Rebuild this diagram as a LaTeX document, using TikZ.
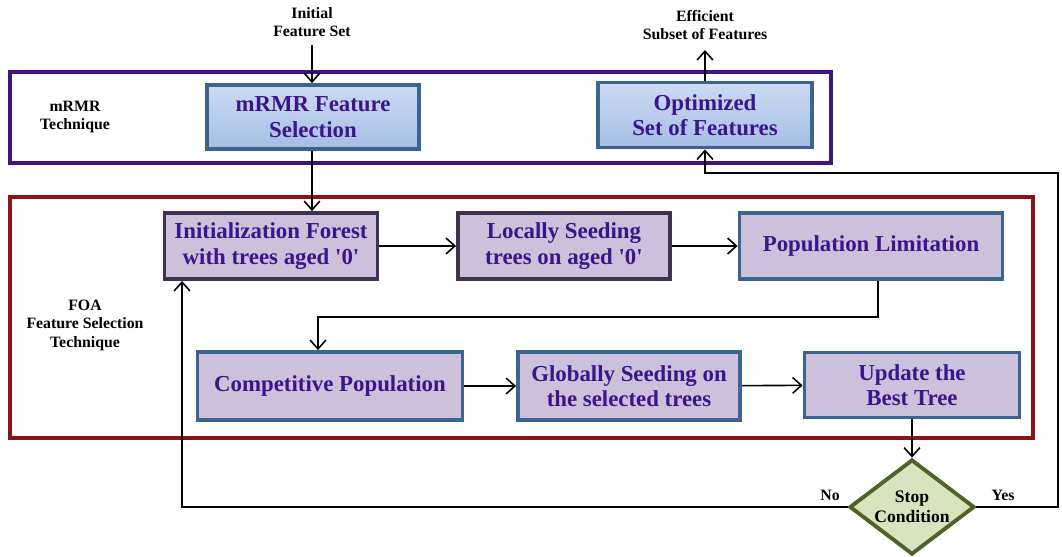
\documentclass[tikz,border=0pt]{standalone}
\usepackage{fontspec}
\setmainfont{Liberation Serif}
\usetikzlibrary{arrows.meta,shapes.geometric}
\definecolor{cPurpleLine}{RGB}{64,20,130}
\definecolor{cRedLine}{RGB}{140,20,24}
\definecolor{cBoxText}{RGB}{60,20,140}
\definecolor{cBlueTop}{RGB}{205,218,242}
\definecolor{cBlueBot}{RGB}{165,190,228}
\definecolor{cBlueLine}{RGB}{60,100,145}
\definecolor{cLavender}{RGB}{204,192,218}
\definecolor{cDarkLine}{RGB}{64,49,81}
\definecolor{cDiaFill}{RGB}{215,228,189}
\definecolor{cDiaLine}{RGB}{79,98,40}
\tikzset{
  mbox/.style={draw=cBlueLine, line width=2.2pt, top color=cBlueTop, bottom color=cBlueBot,
    text=cBoxText, font=\fontsize{13}{14.5}\selectfont\bfseries, align=center, inner sep=0pt},
  fbox/.style={draw=cBlueLine, line width=2.2pt, fill=cLavender,
    text=cBoxText, font=\fontsize{13}{14.5}\selectfont\bfseries, align=center, inner sep=0pt},
  darkbox/.style={fbox, draw=cDarkLine},
  lbl/.style={font=\fontsize{9}{10.5}\selectfont\bfseries, align=center},
  flow/.style={line width=0.9pt, -{Straight Barb[length=5pt,width=9pt]}},
}
\begin{document}
\begin{tikzpicture}[x=0.02cm, y=-0.02cm]
\useasboundingbox (0,0) rectangle (1062,556);

% outer regions
\draw [cPurpleLine, line width=2.2pt] (10,72) rectangle (831,163);
\draw [cRedLine, line width=2.2pt] (10,197) rectangle (1033,438);
\node[lbl] (tMrmr) at (75,117) {mRMR\\Technique};
\node[lbl] (tFoa) at (85,325) {FOA\\Feature Selection\\Technique};

% mRMR part
\node[mbox, minimum width=212*0.02cm, minimum height=64*0.02cm] (mrmr) at (313,117) {mRMR Feature\\Selection};
\node[mbox, minimum width=214*0.02cm, minimum height=65*0.02cm] (optim) at (705,115) {Optimized\\Set of Features};
\node[lbl] (tInit) at (312,22) {Initial\\Feature Set};
\node[lbl] (tEff) at (705,25) {Efficient\\Subset of Features};
\coordinate (cInTop) at (312,45);
\coordinate (cEffBot) at (705,50);

% FOA part
\node[darkbox, minimum width=213*0.02cm, minimum height=66*0.02cm] (init) at (271,246) {Initialization Forest\\with trees aged \textquotesingle0\textquotesingle};
\node[darkbox, minimum width=212*0.02cm, minimum height=66*0.02cm] (local) at (564,246) {Locally Seeding\\trees on aged \textquotesingle0\textquotesingle};
\node[fbox, minimum width=263*0.02cm, minimum height=66*0.02cm] (poplim) at (871,246) {Population Limitation};
\node[fbox, minimum width=265*0.02cm, minimum height=68*0.02cm] (comp) at (330,386) {Competitive Population};
\node[fbox, minimum width=222*0.02cm, minimum height=68*0.02cm] (glob) at (629,386) {Globally Seeding on\\the selected trees};
\node[fbox, minimum width=215*0.02cm, minimum height=65*0.02cm] (update) at (912,385) {Update the\\Best Tree};
\node[diamond, draw=cDiaLine, line width=2.2pt, fill=cDiaFill, aspect=1.3,
  minimum width=125*0.02cm, minimum height=95*0.02cm, inner sep=0pt,
  font=\fontsize{10}{11.5}\selectfont\bfseries, align=center] (stop) at (912,507) {Stop\\Condition};
\node[lbl] (tNo) at (830,495) {No};
\node[lbl] (tYes) at (1003,495) {Yes};

\coordinate (cPopDown) at (878,317);
\coordinate (cCompUp) at (318,317);
\coordinate (cNoLeft) at (182,507);
\coordinate (cYesRight) at (1058,507);
\coordinate (cYesTop) at (1058,173);
\coordinate (cOptLow) at (705,173);

% connectors
\draw [flow] (cInTop) -- (mrmr.north -| cInTop);
\draw [flow] (optim.north) -- (cEffBot);
\draw [flow] (mrmr.south -| cInTop) -- (init.north -| cInTop);
\draw [flow] (init) -- (local);
\draw [flow] (local) -- (poplim);
\draw [flow] (poplim.south -| cPopDown) -- (cPopDown) -- (cCompUp) -- (comp.north -| cCompUp);
\draw [flow] (comp) -- (glob);
\draw [flow] (glob) -- (update);
\draw [flow] (update) -- (stop);
\draw [flow] (stop.west) -- (cNoLeft) -- (init.south -| cNoLeft);
\draw [flow] (stop.east) -- (cYesRight) -- (cYesTop) -- (cOptLow) -- (optim.south);

\end{tikzpicture}
\end{document}
